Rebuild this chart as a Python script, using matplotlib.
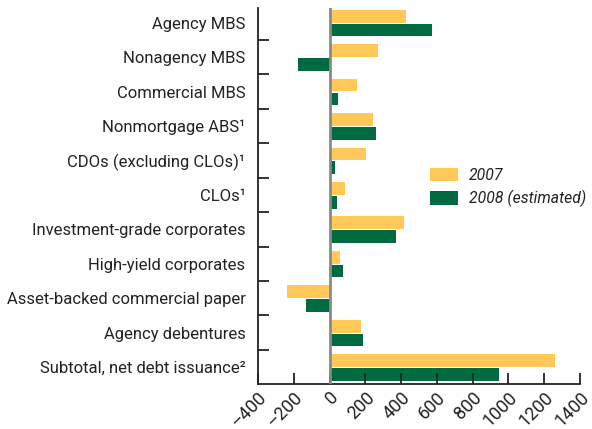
import matplotlib.pyplot as plt
import numpy as np

# categories top to bottom
categories = ["Agency MBS", "Nonagency MBS", "Commercial MBS", "Nonmortgage ABS\u00b9",
              "CDOs (excluding CLOs)\u00b9", "CLOs\u00b9", "Investment-grade corporates",
              "High-yield corporates", "Asset-backed commercial paper",
              "Agency debentures", "Subtotal, net debt issuance\u00b2"]
vals_2007 = [426, 270, 156, 243, 204, 89, 415, 59, -239, 178, 1259]
vals_2008 = [570, -178, 50, 259, 33, 44, 370, 78, -133, 189, 948]
xticks = [-400, -200, 0, 200, 400, 600, 800, 1000, 1200, 1400]

plt.rcParams['font.family'] = ['Roboto', 'DejaVu Sans']

yellow = '#FFC857'
green = '#006A40'
fs = 12

fig = plt.figure(figsize=(5.92, 4.29), dpi=100)
ax = fig.add_axes([0.4358, 0.1049, 0.5439, 0.8765])

y = np.arange(len(categories))
h = 0.37
ax.barh(y - 0.19, vals_2007, height=h, color=yellow, label='2007')
ax.barh(y + 0.21, vals_2008, height=h, color=green, label='2008 (estimated)')

ax.axvline(0, color='#8a8a8a', lw=2, zorder=3)

ax.set_ylim(10.49, -0.43)
ax.set_xlim(-400, 1400)

ax.set_yticks(y)
ax.set_yticklabels(categories, fontsize=fs, color='#222222')
ax.tick_params(axis='y', length=0, pad=9)
ax.set_yticks(np.arange(len(categories) - 1) + 0.5, minor=True)
ax.tick_params(axis='y', which='minor', direction='in', length=8, width=1.3, color='#222222')

ax.set_xticks(xticks)
ax.set_xticklabels([str(t).replace('-', '\u2013') for t in xticks], rotation=45,
                   ha='right', va='top', rotation_mode='anchor', fontsize=fs + 1, color='#222222')
ax.tick_params(axis='x', direction='in', length=8, width=1.3, color='#222222', pad=3)

for s in ['top', 'right']:
    ax.spines[s].set_visible(False)
for s in ['left', 'bottom']:
    ax.spines[s].set_linewidth(1.3)
    ax.spines[s].set_color('#222222')

leg = ax.legend(loc='upper left', bbox_to_anchor=(0.534, 0.575), frameon=False,
                fontsize=11.3, handlelength=1.8, handleheight=0.95, handletextpad=0.7,
                labelspacing=0.45, borderaxespad=0, borderpad=0)
for t in leg.get_texts():
    t.set_style('italic')
    t.set_color('#222222')

fig.savefig('out.png', dpi=100)
